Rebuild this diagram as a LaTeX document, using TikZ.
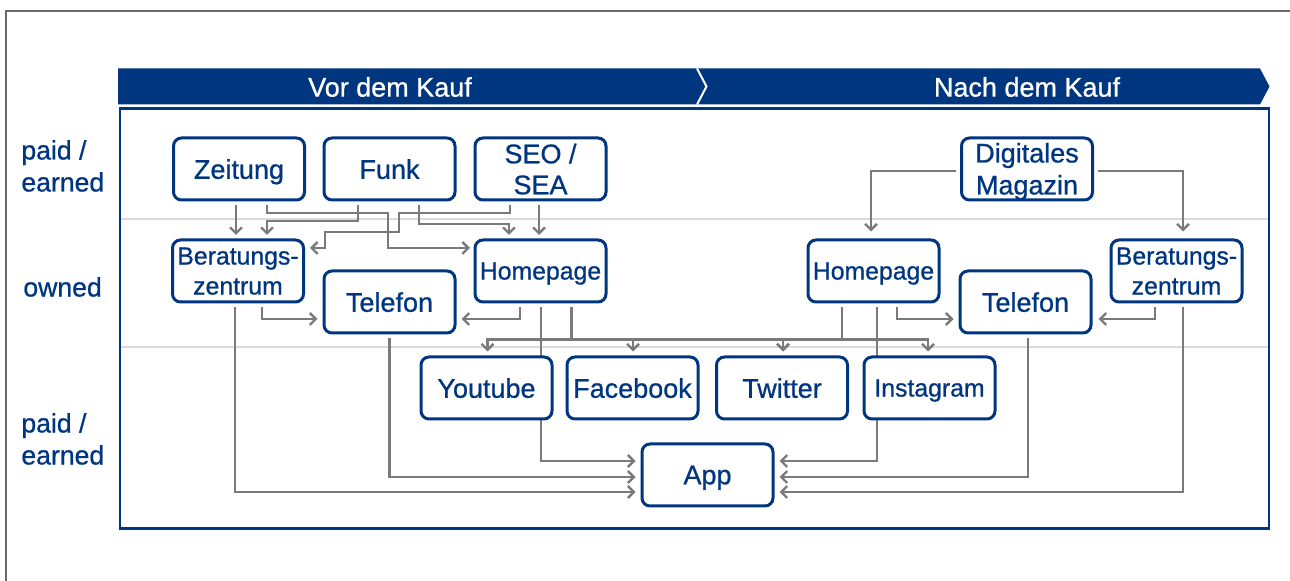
\documentclass[tikz,border=0pt]{standalone}
\usepackage{fontspec}
\setmainfont{Liberation Sans}[FakeBold=0.8]
\usetikzlibrary{calc,arrows.meta,backgrounds}
\definecolor{tblue}{RGB}{0,54,128}
\definecolor{tgray}{RGB}{122,122,122}
\definecolor{sepgray}{RGB}{218,218,218}
\definecolor{framegray}{RGB}{105,105,105}
\begin{document}
\begin{tikzpicture}[x=0.5pt,y=-0.5pt,
  box/.style={draw=tblue, line width=1.5pt, rounded corners=4pt, fill=white,
    minimum width=65.5pt, minimum height=31pt, inner sep=0pt, align=center,
    text=tblue, text depth=0pt, font=\fontsize{13.5}{15.5}\selectfont},
  small/.style={font=\fontsize{12.4}{15}\selectfont},
  arr/.style={draw=tgray, line width=1.2pt, -{Straight Barb[length=3pt,width=6pt]}},
  lab/.style={text=tblue, align=left, anchor=west, inner sep=0pt, font=\fontsize{13.3}{16}\selectfont},
  hdr/.style={text=white, inner sep=0pt, font=\fontsize{13.5}{16}\selectfont},
  sep/.style={draw=sepgray, line width=1pt}
]
\useasboundingbox (0,0) rectangle (1290,581);
% outer frame (cropped)
\draw[framegray, line width=0.8pt] (6,581) -- (6,11) -- (1290,11);
% header band
\fill[tblue] (118,68.5) -- (1260,68.5) -- (1269.5,86.5) -- (1260,104.5) -- (118,104.5) -- cycle;
\draw[white, line width=1pt] (697,68.5) -- (706.5,86.5) -- (697,104.5);
\node[hdr] (h1) at (390,87) {Vor dem Kauf};
\node[hdr] (h2) at (1027,87) {Nach dem Kauf};
% main frame
\draw[tblue, line width=1.25pt] (120,108.5) rectangle (1269,528.5);
% row labels
\node[lab] (l1) at (21,166) {paid /\\earned};
\node[lab] (l2) at (23,287) {owned};
\node[lab] (l3) at (21,439) {paid /\\earned};
% nodes
\node[box] (zeit) at (239,169) {Zeitung};
\node[box] (funk) at (389.5,169) {Funk};
\node[box, text depth=-2pt] (seo) at (540.5,169) {SEO /\\SEA};
\node[box, small, text depth=-3pt] (beratL) at (238,271) {Beratungs-\\zentrum};
\node[box] (telL) at (389.5,302) {Telefon};
\node[box, small] (homeL) at (540.5,271) {Homepage};
\node[box] (yt) at (486.5,388) {Youtube};
\node[box] (fb) at (632.5,388) {Facebook};
\node[box] (tw) at (782,388) {Twitter};
\node[box, small] (ig) at (929.5,388) {Instagram};
\node[box] (app) at (707.5,475) {App};
\node[box, font=\fontsize{13.5}{16}\selectfont, text depth=0.3pt] (mag) at (1027,169) {Digitales\\Magazin};
\node[box, small] (homeR) at (873.5,271) {Homepage};
\node[box] (telR) at (1025.5,302) {Telefon};
\node[box, small, text depth=-3pt] (beratR) at (1176.5,271) {Beratungs-\\zentrum};
\begin{pgfonlayer}{background}
\draw[sep] (121,219) -- (1268,219);
\draw[sep] (121,347) -- (1268,347);
% top left
\draw[arr] ($(zeit.south)+(-3,3.5)$) -- ($(beratL.north)+(-2,-3.5)$);
\draw[arr] ($(zeit.south)+(28,3.5)$) |- ++(121,8) |- ($(homeL.west)+(-3.5,-23)$);
\draw[arr] ($(funk.south)+(-31.5,3.5)$) |- ++(-91,16) -- ($(beratL.north)+(29,-3.5)$);
\draw[arr] ($(funk.south)+(29.5,3.5)$) |- ++(90,19) -- ($(homeL.north)+(-31.5,-3.5)$);
\draw[arr] ($(seo.south)+(-30.5,3.5)$) |- ++(-111,8) |- ++(-74,19) |- ($(beratL.east)+(5,-23)$);
\draw[arr] ($(seo.south)+(-1.5,3.5)$) -- ($(homeL.north)+(-1.5,-3.5)$);
% owned left
\draw[arr] ($(beratL.south)+(24,4)$) |- ($(telL.west)+(-5,17)$);
\draw[arr] ($(homeL.south)+(-20.5,4)$) |- ($(telL.east)+(5,17)$);
% bus to social
\draw[arr] ($(homeL.south)+(31,4)$) |- ($(yt.north)+(1,-16)$) -- ($(yt.north)+(1,-4)$);
\draw[arr] ($(homeL.south)+(31,4)$) |- ($(fb.north)+(0.5,-16)$) -- ($(fb.north)+(0.5,-4)$);
\draw[arr] ($(homeL.south)+(31,4)$) |- ($(tw.north)+(1,-16)$) -- ($(tw.north)+(1,-4)$);
\draw[arr] ($(homeR.south)+(-31.5,4)$) |- ($(tw.north)+(1,-16)$) -- ($(tw.north)+(1,-4)$);
\draw[arr] ($(homeR.south)+(-31.5,4)$) |- ($(ig.north)+(-1.5,-16)$) -- ($(ig.north)+(-1.5,-4)$);
% to app, left
\draw[arr] ($(homeL.south)+(0.5,4)$) |- ($(app.west)+(-5,-14)$);
\draw[arr] ($(telL.south)+(0,4)$) |- ($(app.west)+(-5,2)$);
\draw[arr] ($(beratL.south)+(-3,4)$) |- ($(app.west)+(-5,17)$);
% right side
\draw[arr] ($(mag.west)+(-4,2)$) -| ($(homeR.north)+(-2.5,-7)$);
\draw[arr] ($(mag.east)+(4,2)$) -| ($(beratR.north)+(6.5,-7)$);
\draw[arr] ($(homeR.south)+(23.5,4)$) |- ($(telR.west)+(-5,17)$);
\draw[arr] ($(beratR.south)+(-21.5,4)$) |- ($(telR.east)+(6,17)$);
\draw[arr] ($(homeR.south)+(3.5,4)$) |- ($(app.east)+(5,-14)$);
\draw[arr] ($(telR.south)+(2.5,4)$) |- ($(app.east)+(5,2)$);
\draw[arr] ($(beratR.south)+(6.5,4)$) |- ($(app.east)+(5,17)$);
\end{pgfonlayer}
\end{tikzpicture}
\end{document}
